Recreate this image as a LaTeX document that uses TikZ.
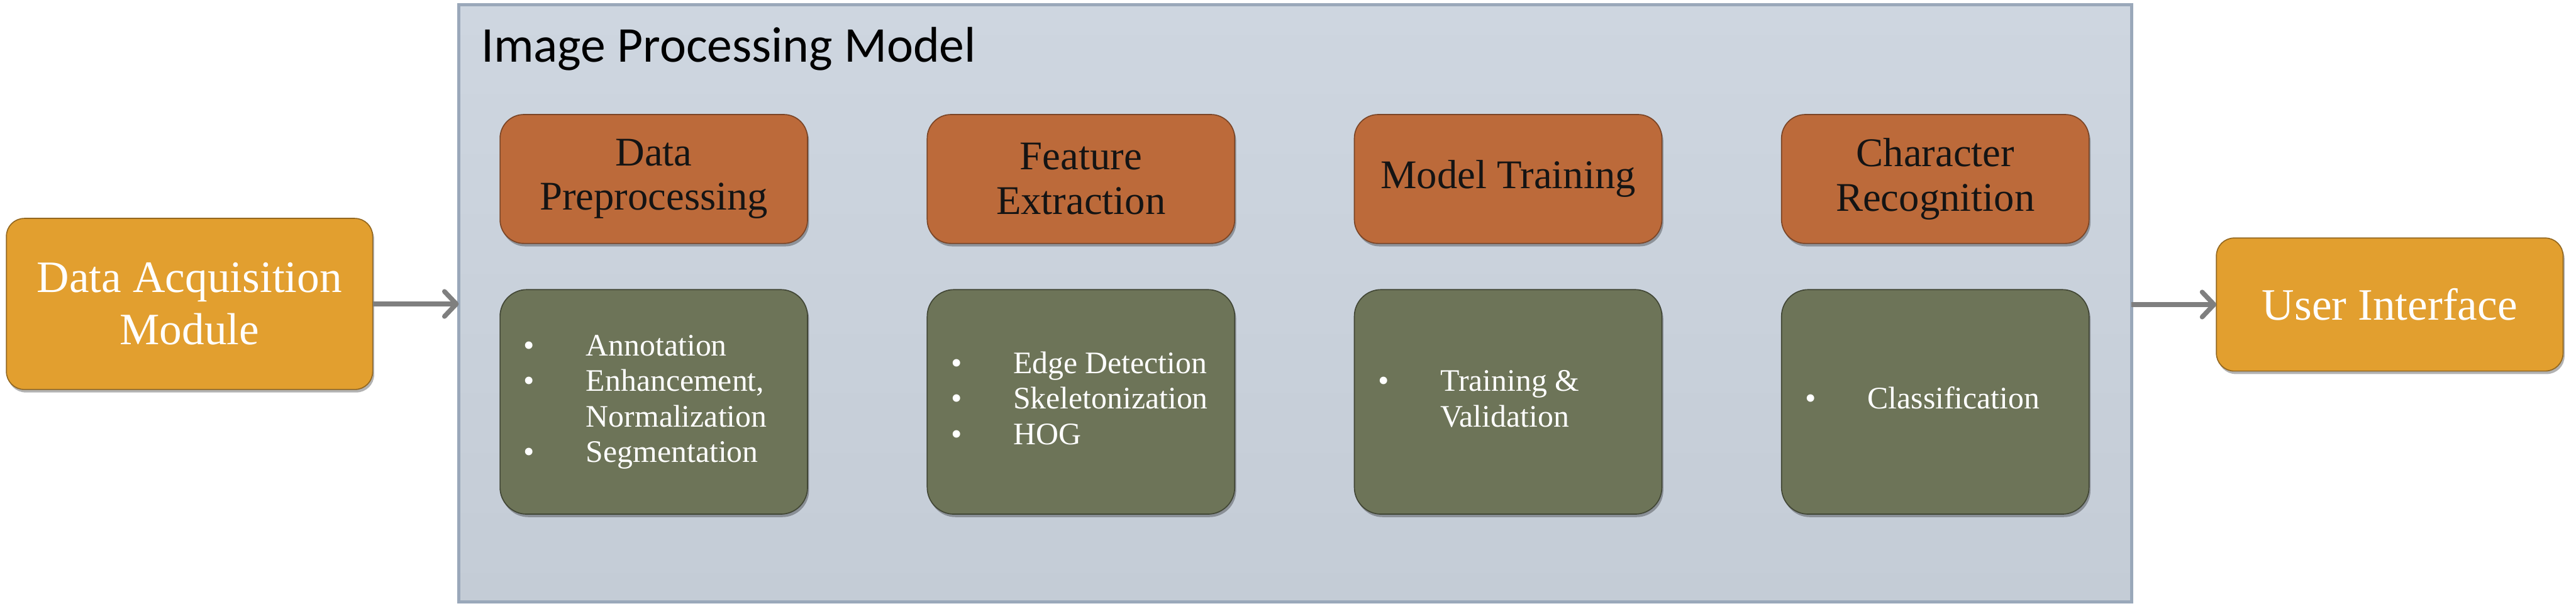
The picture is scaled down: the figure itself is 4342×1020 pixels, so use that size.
\documentclass[tikz,border=0pt]{standalone}
\usepackage{fontspec}
\setmainfont{Liberation Serif}
\newfontfamily\titlefont{Carlito}
\usetikzlibrary{arrows.meta,shadows}
\definecolor{acqorange}{HTML}{E29F2F}
\definecolor{stagebrown}{HTML}{BC6A3A}
\definecolor{detailgreen}{HTML}{6D7458}
\definecolor{paneltop}{HTML}{CED6E0}
\definecolor{panelbottom}{HTML}{C4CCD6}
\definecolor{panelborder}{HTML}{9AA8BA}
\definecolor{arrowgray}{HTML}{7F7F7F}
\begin{document}
\begin{tikzpicture}[x=0.01cm,y=0.01cm,
  every node/.style={inner sep=0pt, outer sep=0pt},
  softshadow/.style={drop shadow={shadow xshift=0.025cm, shadow yshift=-0.05cm, opacity=0.3, fill=black}},
  sidebox/.style={rectangle, rounded corners=0.3cm, fill=acqorange, draw=acqorange!65!black, line width=0.5pt,
    text=white, align=center, font=\fontsize{21.5}{25}\selectfont, softshadow},
  stagebox/.style={rectangle, rounded corners=0.4cm, fill=stagebrown, draw=stagebrown!65!black, line width=0.5pt,
    minimum width=5.18cm, minimum height=2.17cm, text=black!92, align=center,
    font=\fontsize{19.5}{21.3}\selectfont, softshadow},
  detailbox/.style={rectangle, rounded corners=0.45cm, fill=detailgreen, draw=detailgreen!60!black, line width=0.5pt,
    minimum width=5.18cm, minimum height=3.78cm, softshadow},
  detailtext/.style={anchor=west, text=white, font=\fontsize{15}{17}\selectfont},
  flowarrow/.style={draw=arrowgray, line width=0.08cm, -{Straight Barb[length=0.2cm,width=0.42cm,round]}},
]
\useasboundingbox (0,0) rectangle (4342,1020);

% container panel
\node[rectangle, draw=panelborder, line width=0.05cm, top color=paneltop, bottom color=panelbottom,
  minimum width=28.18cm, minimum height=10.06cm] (panel) at (2183,509) {};
\node[anchor=base west, text=black, font=\titlefont\fontsize{24}{28}\selectfont] (title) at (811,916) {Image Processing Model};

% outer modules
\node[sidebox, minimum width=6.17cm, minimum height=2.88cm] (acq) at (319.5,508) {Data Acquisition\\Module};
\node[sidebox, minimum width=5.84cm, minimum height=2.24cm] (ui) at (4028,507) {User Interface};

% stages
\node[stagebox] (s1) at (1102,718.5) {Data\\Preprocessing};
\node[stagebox] (s2) at (1822,718.5) {Feature\\Extraction};
\node[stagebox] (s3) at (2542,718.5) {Model Training};
\node[stagebox] (s4) at (3262,718.5) {Character\\Recognition};

% details
\node[detailbox] (d1) at (1102,343) {};
\node[detailbox] (d2) at (1822,343) {};
\node[detailbox] (d3) at (2542,343) {};
\node[detailbox] (d4) at (3262,343) {};

\node[detailtext] (t1) at ([xshift=0.4cm]d1.west) {\begin{tabular}{@{}p{1.05cm}@{}l@{}}
\textbullet & Annotation\\
\textbullet & Enhancement,\\
 & Normalization\\
\textbullet & Segmentation
\end{tabular}};
\node[detailtext] (t2) at ([xshift=0.4cm]d2.west) {\begin{tabular}{@{}p{1.05cm}@{}l@{}}
\textbullet & Edge Detection\\
\textbullet & Skeletonization\\
\textbullet & HOG
\end{tabular}};
\node[detailtext] (t3) at ([xshift=0.4cm]d3.west) {\begin{tabular}{@{}p{1.05cm}@{}l@{}}
\textbullet & Training \&\\
 & Validation
\end{tabular}};
\node[detailtext] (t4) at ([xshift=0.4cm]d4.west) {\begin{tabular}{@{}p{1.05cm}@{}l@{}}
\textbullet & Classification
\end{tabular}};

% connectors
\draw[flowarrow] (acq.east) -- (acq.east -| panel.west);
\draw[flowarrow] (ui.west -| panel.east) -- (ui.west);
\end{tikzpicture}
\end{document}
